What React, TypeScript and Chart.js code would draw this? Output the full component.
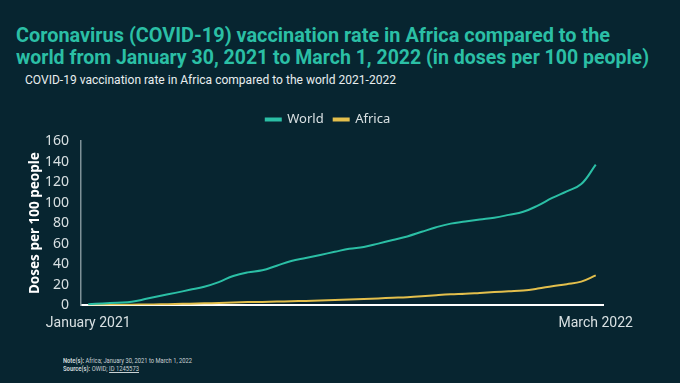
import React, { useEffect, useLayoutEffect, useRef } from "react";
import { Chart, registerables } from "chart.js";

Chart.register(...registerables);

const categories: string[] = [
  "2021-01-30", "2021-02-10", "2021-02-21", "2021-03-05", "2021-03-16", "2021-03-27",
  "2021-04-08", "2021-04-19", "2021-04-30", "2021-05-12", "2021-05-23", "2021-06-03",
  "2021-06-15", "2021-06-26", "2021-07-07", "2021-07-19", "2021-07-30", "2021-08-10",
  "2021-08-22", "2021-09-02", "2021-09-13", "2021-09-25", "2021-10-06", "2021-10-17",
  "2021-10-29", "2021-11-09", "2021-11-20", "2021-12-02", "2021-12-13", "2021-12-24",
  "2022-01-05", "2022-01-16", "2022-01-27", "2022-02-08", "2022-02-19", "2022-03-01",
];

const worldValues: number[] = [
  1, 1.7, 2.5, 3.4, 6.2, 9.2, 12, 15, 18, 22.5, 28.5, 32,
  34, 38.5, 43, 46, 49, 52, 55, 56.7, 60, 63.5, 67, 71.5,
  76, 79.5, 81.5, 83.5, 85.3, 88, 91, 97, 104.5, 111, 118, 137,
];

const africaValues: number[] = [
  0.2, 0.3, 0.4, 0.5, 0.7, 0.9, 1.2, 1.5, 1.8, 2.2, 2.6, 3.0,
  3.2, 3.5, 3.8, 4.2, 4.6, 5.0, 5.5, 6.0, 6.6, 7.2, 7.8, 8.7,
  9.8, 10.7, 11.2, 12.0, 12.8, 13.6, 14.4, 16.2, 18.5, 20.5, 23, 29,
];

const xTickLabels: string[] = ["January 2021", "March 2022"];
const seriesNames: string[] = ["World", "Africa"];

const BG = "#072530";
const TEAL = "#2bbfa5";
const YELLOW = "#e3bf4c";
const FONT = "Roboto, 'Noto Sans', sans-serif";

function FitText(props: {
  left: number;
  top: number;
  width: number;
  size: number;
  lineHeight: number;
  color: string;
  bold?: boolean;
  children: React.ReactNode;
}) {
  const ref = useRef<HTMLSpanElement | null>(null);
  useLayoutEffect(() => {
    const el = ref.current;
    if (!el) return;
    el.style.transform = "none";
    const w = el.getBoundingClientRect().width;
    if (w > 0) el.style.transform = `scaleX(${props.width / w})`;
  });
  return (
    <span
      ref={ref}
      style={{
        position: "absolute",
        left: props.left,
        top: props.top,
        whiteSpace: "nowrap",
        display: "inline-block",
        transformOrigin: "0 0",
        fontFamily: FONT,
        fontSize: props.size,
        lineHeight: `${props.lineHeight}px`,
        fontWeight: props.bold ? "bold" : "normal",
        color: props.color,
      }}
    >
      {props.children}
    </span>
  );
}

export default function App() {
  const canvasRef = useRef<HTMLCanvasElement | null>(null);

  useEffect(() => {
    document.body.style.margin = "0";
    document.body.style.background = BG;
    const ctx = canvasRef.current;
    if (!ctx) return;
    const legendTweak = {
      id: "legendTweak",
      beforeInit(chart: any) {
        const lg = chart.legend;
        if (!lg) return;
        const orig = lg.fit;
        lg.fit = function () {
          orig.call(this);
          this.height += 5;
        };
      },
      afterUpdate(chart: any) {
        const lg = chart.legend;
        if (!lg) return;
        const dx = 328 - (lg.left + lg.right) / 2;
        lg.left += dx;
        lg.right += dx;
        if (lg.adjustHitBoxes) lg.adjustHitBoxes();
      },
    };
    const chart = new Chart(ctx, {
      type: "line",
      data: {
        labels: categories,
        datasets: [
          {
            label: seriesNames[0],
            data: worldValues,
            borderColor: TEAL,
            backgroundColor: TEAL,
            borderWidth: 2,
            pointRadius: 0,
            tension: 0.4,
          },
          {
            label: seriesNames[1],
            data: africaValues,
            borderColor: YELLOW,
            backgroundColor: YELLOW,
            borderWidth: 2,
            pointRadius: 0,
            tension: 0.4,
          },
        ],
      },
      options: {
        animation: false,
        responsive: false,
        maintainAspectRatio: false,
        layout: { padding: { left: 27, right: 77, top: 3, bottom: 0 } },
        plugins: {
          legend: {
            display: true,
            position: "top",
            labels: {
              boxWidth: 15,
              boxHeight: 2,
              color: "#d8e0e2",
              font: { family: "'Noto Sans', sans-serif", size: 13 },
              padding: 10,
            },
          },
          tooltip: { enabled: false },
        },
        scales: {
          x: {
            type: "category",
            offset: true,
            grid: { display: false, drawTicks: false },
            border: { display: true, color: "#ffffff", width: 2 },
            ticks: {
              autoSkip: false,
              maxRotation: 0,
              padding: 10,
              color: "#d8e0e2",
              font: { family: FONT, size: 14 },
              callback: (_v: any, i: number) =>
                i === 0 ? xTickLabels[0] : i === categories.length - 1 ? xTickLabels[1] : "",
            },
          },
          y: {
            min: 0,
            max: 160,
            grid: { display: false, drawTicks: false },
            border: { display: true, color: "#7f9298", width: 1.5 },
            ticks: {
              stepSize: 20,
              padding: 12,
              color: "#d8e0e2",
              font: { family: "'Noto Sans', sans-serif", size: 14 },
            },
            title: {
              display: true,
              text: "Doses per 100 people",
              color: "#ffffff",
              font: { family: "'Noto Sans', sans-serif", size: 13.5, weight: "bold" },
              padding: { top: 0, bottom: 0 },
            },
            afterFit: (scale: any) => {
              scale.width = 54;
            },
          },
        },
      },
      plugins: [legendTweak],
    });
    return () => chart.destroy();
  }, []);

  return (
    <div style={{ position: "fixed", left: 0, top: 0, width: 680, height: 383, background: BG, overflow: "hidden" }}>
      <FitText left={16} top={23} width={594} size={21} lineHeight={24} color={TEAL} bold>
        Coronavirus (COVID-19) vaccination rate in Africa compared to the
      </FitText>
      <FitText left={16} top={45} width={633} size={21} lineHeight={24} color={TEAL} bold>
        world from January 30, 2021 to March 1, 2022 (in doses per 100 people)
      </FitText>
      <FitText left={25} top={72} width={371} size={13} lineHeight={16} color="#e8eeef">
        COVID-19 vaccination rate in Africa compared to the world 2021-2022
      </FitText>
      <canvas
        ref={canvasRef}
        width={680}
        height={242}
        style={{ position: "absolute", left: 0, top: 100, width: 680, height: 242 }}
      />
      <FitText left={63} top={357} width={129} size={7} lineHeight={8} color="#c9d2d4">
        <b>Note(s):</b> Africa; January 30, 2021 to March 1, 2022
      </FitText>
      <FitText left={63} top={365} width={76} size={7} lineHeight={8} color="#c9d2d4">
        <b>Source(s):</b> OWID; <span style={{ textDecoration: "underline" }}>ID 1245573</span>
      </FitText>
    </div>
  );
}
